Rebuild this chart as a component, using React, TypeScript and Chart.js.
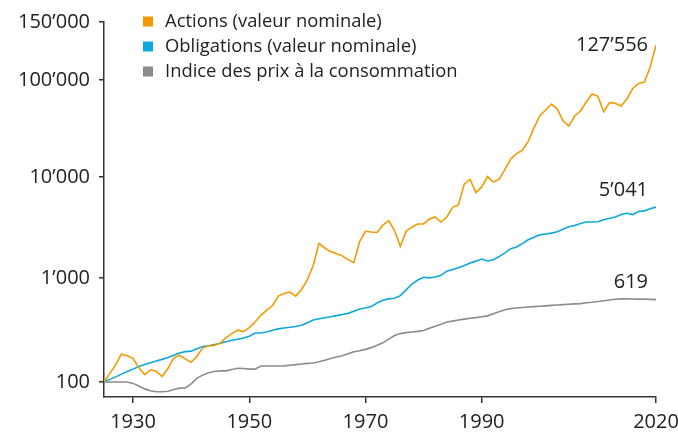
import React, { useEffect, useRef } from 'react';
import { Chart, registerables, LogarithmicScale } from 'chart.js';

// ---------- data ----------
const YEARS = [
  1925, 1926, 1927, 1928, 1929, 1930, 1931, 1932, 1933, 1934,
  1935, 1936, 1937, 1938, 1939, 1940, 1941, 1942, 1943, 1944,
  1945, 1946, 1947, 1948, 1949, 1950, 1951, 1952, 1953, 1954,
  1955, 1956, 1957, 1958, 1959, 1960, 1961, 1962, 1963, 1964,
  1965, 1966, 1967, 1968, 1969, 1970, 1971, 1972, 1973, 1974,
  1975, 1976, 1977, 1978, 1979, 1980, 1981, 1982, 1983, 1984,
  1985, 1986, 1987, 1988, 1989, 1990, 1991, 1992, 1993, 1994,
  1995, 1996, 1997, 1998, 1999, 2000, 2001, 2002, 2003, 2004,
  2005, 2006, 2007, 2008, 2009, 2010, 2011, 2012, 2013, 2014,
  2015, 2016, 2017, 2018, 2019, 2020,
];

const ACTIONS = [
  100, 121, 146, 185, 179, 169, 137, 118, 131, 127,
  113, 135, 170, 181, 167, 155, 177, 213, 222, 225,
  237, 265, 292, 315, 305, 334, 377, 438, 490, 544,
  670, 708, 733, 670, 775, 966, 1324, 2200, 1982, 1824,
  1749, 1656, 1520, 1420, 2293, 2904, 2857, 2824, 3340, 3700,
  2950, 2050, 2900, 3200, 3427, 3427, 3837, 4018, 3582, 4018,
  5010, 5285, 8500, 9500, 7000, 7980, 10100, 8900, 9500, 12000,
  15370, 17400, 18880, 23100, 32050, 42640, 49100, 56500, 50400, 38000,
  33500, 42570, 47900, 59300, 71800, 67800, 47000, 58350, 57660, 53950,
  63500, 81700, 92300, 95300, 109500, 127556,
];

const OBLIGATIONS = [
  100, 106, 112, 119, 126, 133, 141, 147, 153, 159,
  165, 172, 181, 190, 196, 198, 209, 219, 223, 229,
  236, 244, 252, 258, 265, 275, 296, 296, 303, 315,
  324, 331, 336, 342, 351, 372, 394, 405, 415, 424,
  435, 445, 457, 478, 504, 515, 531, 575, 612, 630,
  638, 676, 769, 875, 957, 1018, 1002, 1023, 1064, 1170,
  1211, 1262, 1333, 1408, 1469, 1539, 1476, 1515, 1630, 1771,
  1950, 2027, 2188, 2393, 2530, 2673, 2730, 2782, 2873, 3036,
  3222, 3311, 3467, 3582, 3582, 3600, 3780, 3900, 4020, 4250,
  4380, 4250, 4550, 4620, 4850, 5041,
];

const INDICE_PRIX = [
  100, 100, 100, 100, 100, 97, 91.5, 86, 82.7, 80.7,
  80.7, 81.6, 84.9, 87.5, 87.7, 96, 109, 116.5, 123, 126,
  128, 128, 132, 135.5, 135, 133, 133, 142.5, 142.5, 142.5,
  142.5, 142.8, 145, 147, 149, 151, 152.4, 156.7, 162, 168,
  174, 179, 187, 195, 200, 206, 214, 225.5, 238, 258,
  280, 292, 298.5, 303, 307, 313, 328, 344, 360, 377,
  385, 394, 402.5, 410, 416, 423.6, 432.5, 453, 474, 495.5,
  508, 514, 520, 527, 531, 535.6, 540, 545, 550, 555,
  558.5, 563.6, 567.5, 578, 585, 595, 605, 615, 625, 630,
  630, 628, 627, 626, 623, 619,
];

const SERIES_LABELS = [
  'Actions (valeur nominale)',
  'Obligations (valeur nominale)',
  'Indice des prix à la consommation',
];
const END_LABELS = ['127’556', '5’041', '619'];
const X_TICKS = [1930, 1950, 1970, 1990, 2020];
const Y_TICKS = [100, 1000, 10000, 100000, 150000];

// ---------- styles ----------
const COLORS = ['#F39A00', '#0AA8DC', '#8C8C8C'];
const TEXT = '#222222';
const AXIS = '#333333';
const FONT = '"Open Sans", "Noto Sans", sans-serif';

// Y axis calibration of the original figure: [tick value, fraction of axis height]
const Y_AXIS_KNOTS: [number, number][] = [
  [72, 0],
  [100, 0.04],
  [1000, 0.31733],
  [10000, 0.58667],
  [100000, 0.84533],
  [150000, 1],
];

class KnottedLogScale extends LogarithmicScale {
  static id = 'knottedLog';
  static defaults = LogarithmicScale.defaults;

  getPixelForValue(value: any) {
    if (value === undefined || value === 0) value = (this as any).min;
    if (value === null || isNaN(value)) return NaN;
    const l = Math.log10(value);
    const k = Y_AXIS_KNOTS;
    let i = 0;
    while (i < k.length - 2 && l > Math.log10(k[i + 1][0])) i++;
    const l0 = Math.log10(k[i][0]);
    const l1 = Math.log10(k[i + 1][0]);
    const dec = k[i][1] + ((l - l0) / (l1 - l0)) * (k[i + 1][1] - k[i][1]);
    return (this as any).getPixelForDecimal(dec);
  }

  getValueForPixel(pixel: number) {
    const dec = (this as any).getDecimalForPixel(pixel);
    const k = Y_AXIS_KNOTS;
    let i = 0;
    while (i < k.length - 2 && dec > k[i + 1][1]) i++;
    const l0 = Math.log10(k[i][0]);
    const l1 = Math.log10(k[i + 1][0]);
    const l = l0 + ((dec - k[i][1]) / (k[i + 1][1] - k[i][1])) * (l1 - l0);
    return Math.pow(10, l);
  }
}

Chart.register(...registerables, KnottedLogScale as any);

const fmt = (v: number) => String(Math.round(v)).replace(/\B(?=(\d{3})+(?!\d))/g, '’');

const legendPlugin = {
  id: 'sideLegend',
  afterDraw(chart: any, _args: any, opts: any) {
    const { ctx } = chart;
    ctx.save();
    ctx.font = opts.font;
    ctx.textBaseline = 'middle';
    ctx.textAlign = 'left';
    chart.data.datasets.forEach((ds: any, i: number) => {
      const y = opts.top + i * opts.rowHeight;
      ctx.fillStyle = ds.borderColor;
      ctx.fillRect(opts.boxLeft, y - opts.box / 2, opts.box, opts.box);
      ctx.fillStyle = opts.color;
      ctx.fillText(ds.label, opts.textLeft, y);
    });
    ctx.restore();
  },
};

const endLabelPlugin = {
  id: 'endLabels',
  afterDatasetsDraw(chart: any, _args: any, opts: any) {
    const { ctx } = chart;
    ctx.save();
    ctx.font = opts.font;
    ctx.fillStyle = opts.color;
    ctx.textAlign = 'right';
    ctx.textBaseline = 'middle';
    chart.data.datasets.forEach((_ds: any, i: number) => {
      const meta = chart.getDatasetMeta(i);
      const pt = meta.data[meta.data.length - 1];
      if (!pt) return;
      ctx.fillText(END_LABELS[i], pt.x - opts.gap, pt.y + opts.offsets[i]);
    });
    ctx.restore();
  },
};

export default function App() {
  const ref = useRef<HTMLCanvasElement>(null);

  useEffect(() => {
    if (!ref.current) return;
    const series = [ACTIONS, OBLIGATIONS, INDICE_PRIX];
    const chart = new Chart(ref.current, {
      type: 'line',
      data: {
        datasets: series.map((vals, i) => ({
          label: SERIES_LABELS[i],
          data: YEARS.map((yr, j) => ({ x: yr, y: vals[j] })),
          borderColor: COLORS[i],
          backgroundColor: COLORS[i],
          borderWidth: 1.6,
          pointRadius: 0,
          tension: 0,
          fill: false,
        })),
      },
      options: {
        animation: false,
        responsive: true,
        maintainAspectRatio: false,
        events: [],
        layout: { padding: { left: 0, top: 22, right: 22, bottom: 0 } },
        plugins: {
          legend: { display: false },
          tooltip: { enabled: false },
          sideLegend: {
            font: `18.4px ${FONT}`,
            color: TEXT,
            top: 21.5,
            rowHeight: 25,
            boxLeft: 143,
            box: 10,
            textLeft: 165,
          },
          endLabels: {
            font: `20px ${FONT}`,
            color: TEXT,
            gap: 8,
            offsets: [0, -17, -17],
          },
        } as any,
        scales: {
          x: {
            type: 'linear',
            min: 1925,
            max: 2020,
            afterBuildTicks: (scale: any) => {
              scale.ticks = X_TICKS.map((v) => ({ value: v }));
            },
            afterFit: (scale: any) => {
              scale.height = 35;
              scale.paddingLeft = 0;
              scale.paddingRight = 0;
            },
            grid: {
              drawOnChartArea: false,
              drawTicks: true,
              tickLength: 6,
              color: AXIS,
              lineWidth: 1.5,
            },
            border: { display: true, color: AXIS, width: 1.5 },
            ticks: {
              autoSkip: false,
              maxRotation: 0,
              padding: 7,
              color: TEXT,
              font: { family: FONT, size: 20 },
              callback: (v: any) => String(v),
            },
          },
          y: {
            type: 'knottedLog' as any,
            min: 72,
            max: 150000,
            afterBuildTicks: (scale: any) => {
              scale.ticks = Y_TICKS.map((v) => ({ value: v }));
            },
            afterFit: (scale: any) => {
              scale.width = 104;
              scale.paddingTop = 0;
              scale.paddingBottom = 0;
            },
            grid: {
              drawOnChartArea: false,
              drawTicks: true,
              tickLength: 5,
              color: AXIS,
              lineWidth: 1.5,
            },
            border: { display: true, color: AXIS, width: 1.5 },
            ticks: {
              autoSkip: false,
              padding: 9,
              color: TEXT,
              font: { family: FONT, size: 20 },
              callback: (v: any) => fmt(Number(v)),
            },
          },
        },
      },
      plugins: [legendPlugin, endLabelPlugin],
    } as any);
    return () => chart.destroy();
  }, []);

  return (
    <div
      style={{
        position: 'absolute',
        left: 0,
        top: 0,
        width: 678,
        height: 432,
        background: '#ffffff',
      }}
    >
      <canvas ref={ref} />
    </div>
  );
}
